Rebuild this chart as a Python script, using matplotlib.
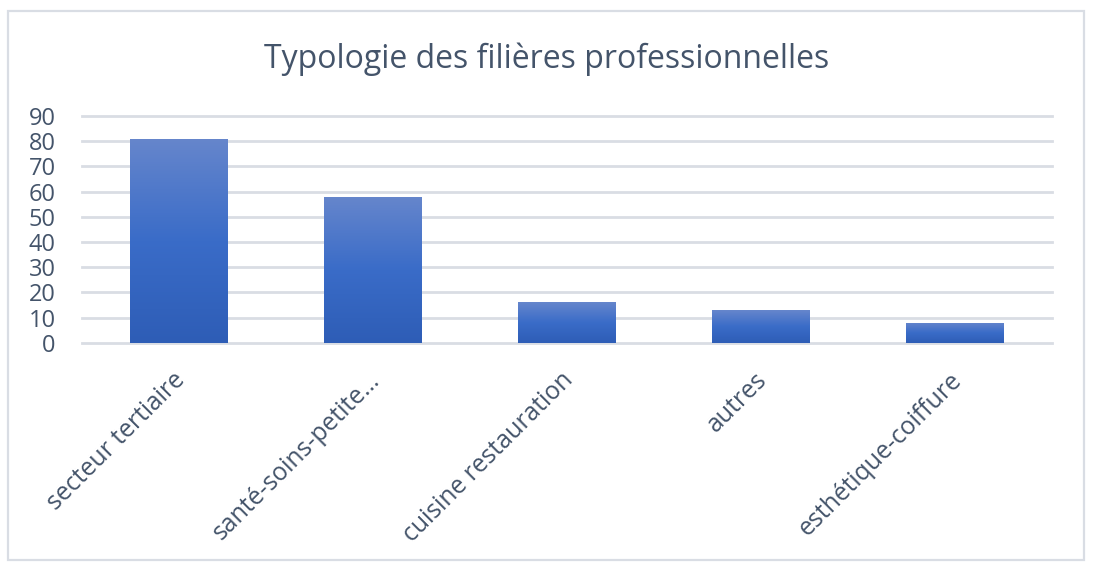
import matplotlib
matplotlib.use("Agg")
import matplotlib.pyplot as plt
import matplotlib.transforms as mtransforms
import numpy as np
from matplotlib.colors import LinearSegmentedColormap
from matplotlib.patches import Rectangle

categories = ["secteur tertiaire", "santé-soins-petite…", "cuisine restauration", "autres", "esthétique-coiffure"]
values = [81, 58, 16, 13, 8]
yticks = [0, 10, 20, 30, 40, 50, 60, 70, 80, 90]
title = "Typologie des filières professionnelles"

W, H = 1098, 576
plt.rcParams['font.family'] = ['Open Sans', 'DejaVu Sans']
text_color = "#44546A"
grid_color = "#D9DDE4"

fig = plt.figure(figsize=(W / 100, H / 100), dpi=100)
fig.patch.set_facecolor("white")

# chart border
fig.add_artist(Rectangle((8 / W, 1 - 560 / H), (1084 - 8) / W, (560 - 11) / H,
                         transform=fig.transFigure, fill=False,
                         edgecolor=grid_color, linewidth=1.6))

left, right = 82 / W, 1052 / W
bottom, top = 1 - 342.7 / H, 1 - 116 / H
ax = fig.add_axes([left, bottom, right - left, top - bottom])

x = np.arange(len(categories))
ax.set_xlim(-0.5, len(categories) - 0.5)
ax.set_ylim(0, 90)

for yv in yticks:
    ax.axhline(yv, color=grid_color, linewidth=2.0, zorder=1, clip_on=False)

cmap = LinearSegmentedColormap.from_list("grad", ["#2E5DB6", "#3A6CC8", "#6686CC"])
grad = np.linspace(0, 1, 256).reshape(-1, 1)
bars = ax.bar(x, values, width=0.505, color="none", edgecolor="none", zorder=2)
for b in bars:
    x0 = b.get_x()
    x1 = x0 + b.get_width()
    h = b.get_height()
    im = ax.imshow(grad, cmap=cmap, origin="lower", aspect="auto",
                   extent=(x0, x1, 0, h), zorder=2, interpolation="bilinear")
    im.set_clip_path(b)
ax.set_xlim(-0.5, len(categories) - 0.5)
ax.set_ylim(0, 90)

for s in ax.spines.values():
    s.set_visible(False)

ax.set_yticks(yticks)
ax.set_yticklabels([str(v) for v in yticks], fontsize=17, color=text_color)
ax.tick_params(axis='y', length=0, pad=19)
for lbl in ax.get_yticklabels():
    lbl.set_horizontalalignment('right')

ax.set_xticks(x)
ax.set_xticklabels(categories, fontsize=17.8, color=text_color,
                   rotation=45, ha='right', va='top', rotation_mode='anchor')
ax.tick_params(axis='x', length=0, pad=18)
shift = mtransforms.ScaledTranslation(-6 / 100, 0, fig.dpi_scale_trans)
for lbl in ax.get_xticklabels():
    lbl.set_transform(lbl.get_transform() + shift)

fig.text(547 / W, 1 - 68 / H, title, ha='center', va='baseline',
         fontsize=23, color=text_color)

fig.savefig("out.png", dpi=100, facecolor="white")
